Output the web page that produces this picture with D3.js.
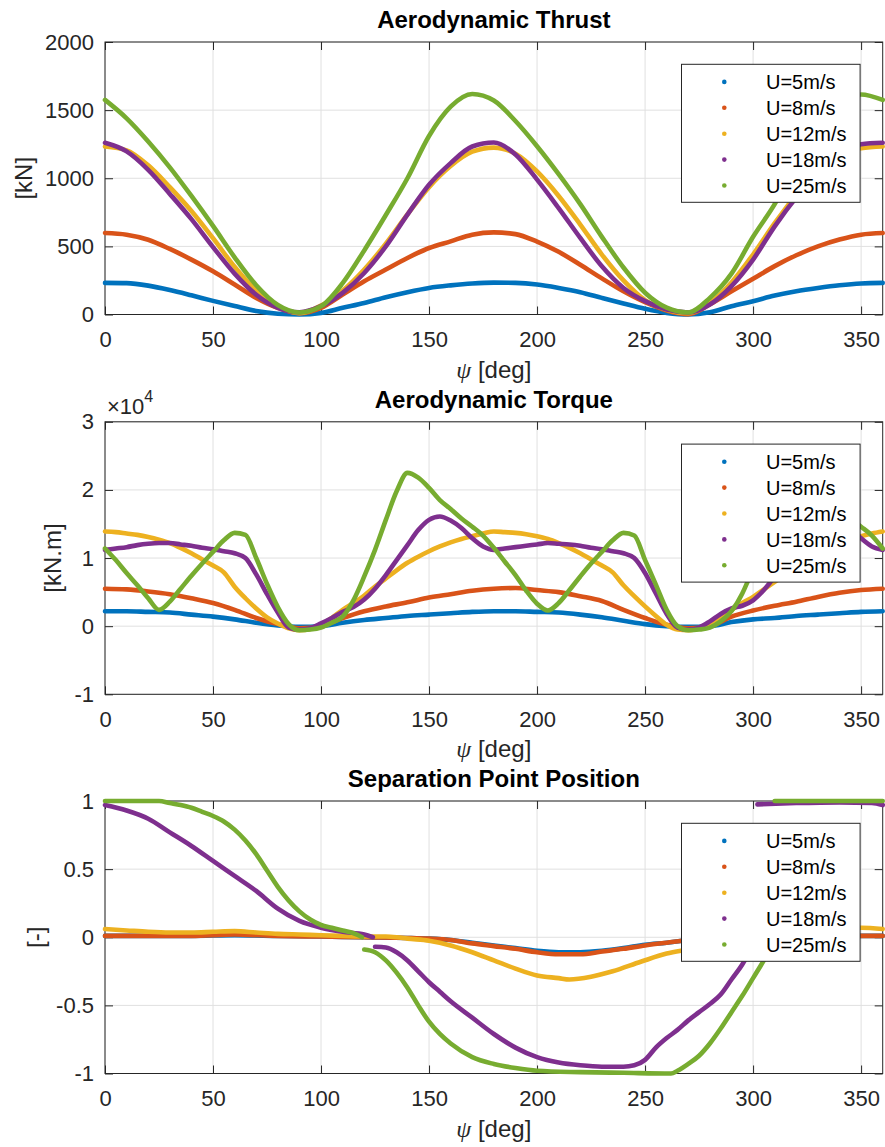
<!DOCTYPE html>
<html><head><meta charset="utf-8">
<script src="https://cdn.jsdelivr.net/npm/d3@7"></script>
<style>body{margin:0;background:#fff} svg{display:block}</style>
</head><body>
<script>
// ---------- DATA ----------
const seriesNames = ['U=5m/s','U=8m/s','U=12m/s','U=18m/s','U=25m/s'];
const xTickVals = [0,50,100,150,200,250,300,350];
const thrustTicks = [0,500,1000,1500,2000];
const torqueTicks = [-1,0,1,2,3];          // x 10^4
const sepTicks = [-1,-0.5,0,0.5,1];

const psi10 = [0,10,20,30,40,50,60,70,80,90,100,110,120,130,140,150,160,170,180,190,200,210,220,230,240,250,260,270,280,290,300,310,320,330,340,350,360];
const psi5 = [0,5,10,15,20,25,30,35,40,45,50,55,60,65,70,75,80,85,90,95,100,105,110,115,120,125,130,135,140,145,150,155,160,165,170,175,180,185,190,195,200,205,210,215,220,225,230,235,240,245,250,255,260,265,270,275,280,285,290,295,300,305,310,315,320,325,330,335,340,345,350,355,360];

// Aerodynamic thrust [kN] (psi10)
const thrustU5  = [232,230,212,180,141,100,62,26,6,0, 12,49,85,127,164,195,214,228,234,232, 220,195,164,122,81,42,12,0,17,61, 98,139,171,195,215,228,232];
const thrustU8  = [598,586,549,481,403,317,220,122,49,10, 49,147,244,330,415,488,537,586,603,590, 535,460,365,265,170,90,30,3,75,170, 262,355,435,500,550,586,598];
const thrustU12 = [1233,1205,1095,935,760,560,350,175,60,10, 65,175,330,520,735,935,1090,1195,1225,1180, 1050,870,660,440,250,105,35,10,85,235, 440,670,880,1050,1165,1220,1233];
const thrustU18 = [1260,1197,1062,885,700,495,300,145,49,17, 61,159,305,500,733,952,1111,1233,1262,1175, 990,781,562,354,195,98,37,15,73,208, 403,647,860,1040,1160,1250,1260];
const thrustU25 = [1575,1440,1270,1080,870,650,420,215,70,15, 60,230,470,730,1000,1310,1525,1618,1570,1420, 1235,1030,810,570,345,160,50,15,122,300, 570,810,1100,1380,1560,1615,1575];

// Aerodynamic torque [kN.m] in units of 10^4
const torqueU5 = [0.22,0.22,0.21,0.20,0.17,0.14,0.10,0.05,0.01,-0.01, 0.0,0.05,0.09,0.12,0.15,0.17,0.19,0.21,0.22,0.22, 0.21,0.20,0.17,0.13,0.08,0.03,0.0,-0.01,0.0,0.06, 0.10,0.12,0.15,0.17,0.19,0.21,0.22];
const torqueU8 = [0.55,0.54,0.51,0.47,0.41,0.34,0.24,0.12,0.03,-0.03, 0.0,0.12,0.22,0.29,0.35,0.42,0.47,0.52,0.55,0.56, 0.53,0.50,0.44,0.37,0.24,0.12,0.02,-0.03,0.0,0.14, 0.23,0.30,0.36,0.43,0.49,0.53,0.55];
const torqueU12 = [1.39,1.38,1.36,1.34,1.31,1.27,1.22,1.15,1.07,0.98, 0.89,0.79,0.58,0.41,0.26,0.13,0.04,-0.03,-0.06,-0.04,
 0.02,0.12,0.24,0.34,0.45,0.58,0.70,0.82,0.93,1.02, 1.10,1.17,1.23,1.28,1.32,1.36,1.39,1.38,1.37,1.35,
 1.32,1.28,1.22,1.15,1.07,0.98,0.89,0.79,0.60,0.44, 0.29,0.15,0.02,-0.05,-0.06,-0.03,0.02,0.12,0.24,0.34,
 0.43,0.54,0.65,0.76,0.86,0.96,1.05,1.13,1.20,1.26, 1.32,1.36,1.39];
const torqueU18 = [1.12,1.14,1.16,1.19,1.21,1.22,1.22,1.20,1.18,1.15, 1.13,1.10,1.07,1.00,0.76,0.47,0.20,-0.02,-0.05,-0.03,
 0.04,0.12,0.21,0.28,0.39,0.55,0.75,0.97,1.19,1.41, 1.56,1.61,1.55,1.44,1.29,1.17,1.12,1.14,1.16,1.18,
 1.20,1.22,1.21,1.20,1.18,1.15,1.13,1.10,1.07,1.00, 0.78,0.48,0.18,-0.02,-0.05,-0.02,0.07,0.18,0.26,0.30,
 0.38,0.53,0.73,0.97,1.19,1.41,1.57,1.61,1.55,1.44, 1.29,1.17,1.12];
const torqueU25 = [1.14,0.97,0.78,0.60,0.41,0.24,0.36,0.55,0.74,0.92, 1.09,1.26,1.37,1.34,1.00,0.62,0.28,0.03,-0.06,-0.05,
 -0.02,0.05,0.14,0.38,0.73,1.12,1.56,1.98,2.25,2.18, 2.03,1.85,1.72,1.58,1.46,1.33,1.15,0.95,0.75,0.52,
 0.33,0.23,0.34,0.53,0.73,0.92,1.09,1.26,1.37,1.33, 0.97,0.61,0.24,0.0,-0.06,-0.05,-0.02,0.07,0.22,0.48,
 0.85,1.28,1.70,2.08,2.25,2.18,2.03,1.85,1.72,1.58, 1.46,1.33,1.14];

// Separation point position [-] as [psi, value]; null marks a jump
const sepU5 = [[0,0.01],[20,0.01],[40,0.01],[60,0.015],[80,0.01],[100,0.005],[120,0.0],[140,-0.005],[150,-0.01],[160,-0.02],[170,-0.04],[180,-0.06],[190,-0.08],[200,-0.10],[210,-0.11],[220,-0.11],[230,-0.10],[240,-0.08],[250,-0.055],[260,-0.04],[270,-0.02],[280,-0.01],[290,0.0],[300,0.005],[320,0.01],[340,0.01],[360,0.01]];
const sepU8 = [[0,0.01],[20,0.01],[40,0.01],[60,0.02],[80,0.01],[100,0.005],[120,0.0],[140,-0.005],[150,-0.01],[160,-0.02],[170,-0.045],[180,-0.065],[190,-0.085],[200,-0.11],[210,-0.125],[220,-0.125],[230,-0.105],[240,-0.085],[250,-0.06],[260,-0.04],[270,-0.02],[280,-0.01],[290,0.0],[300,0.005],[320,0.01],[340,0.01],[360,0.01]];
const sepU12 = [[0,0.06],[10,0.05],[20,0.04],[30,0.035],[40,0.035],[50,0.04],[60,0.045],[70,0.035],[80,0.025],[90,0.02],[100,0.015],[110,0.01],[120,0.005],[130,0.005],[135,0.0],[140,-0.01],[150,-0.025],[155,-0.04],[160,-0.06],[170,-0.11],[180,-0.17],[190,-0.23],[200,-0.28],[210,-0.30],[215,-0.31],[225,-0.29],[235,-0.25],[248,-0.18],[260,-0.12],[270,-0.09],[280,-0.06],[290,-0.03],[300,0.0],[310,0.02],[320,0.04],[330,0.05],[340,0.06],[350,0.07],[360,0.06]];
const sepU18 = [[0,0.97],[10,0.93],[20,0.87],[30,0.77],[40,0.67],[50,0.56],[60,0.45],[70,0.34],[80,0.21],[90,0.12],[100,0.07],[110,0.04],[120,0.02],[124,0.0], null,
 [125,-0.07],[130,-0.075],[135,-0.11],[140,-0.17],[145,-0.25],[150,-0.33],[155,-0.40],[160,-0.47],[170,-0.59],[180,-0.71],[190,-0.81],[200,-0.88],[210,-0.92],[220,-0.94],[230,-0.95],[240,-0.95],[245,-0.94],[250,-0.90],[255,-0.81],[260,-0.74],[265,-0.68],[270,-0.61],[275,-0.55],[280,-0.49],[285,-0.42],[290,-0.31],[295,-0.20],[300,-0.06], null,
 [302,0.975],[320,0.985],[340,0.99],[355,0.985],[360,0.97]];
const sepU25 = [[0,1.0],[25,1.0],[30,0.985],[35,0.97],[40,0.95],[45,0.92],[50,0.89],[55,0.85],[60,0.79],[65,0.71],[70,0.61],[75,0.49],[80,0.37],[85,0.27],[90,0.19],[95,0.13],[100,0.09],[105,0.07],[110,0.05],[115,0.03],[119,0.0], null,
 [120,-0.09],[125,-0.11],[130,-0.17],[135,-0.26],[140,-0.37],[145,-0.50],[150,-0.62],[155,-0.71],[160,-0.78],[170,-0.88],[180,-0.93],[190,-0.96],[200,-0.98],[220,-0.99],[240,-0.995],[262,-1.0],[265,-0.98],[270,-0.93],[275,-0.87],[280,-0.78],[285,-0.67],[290,-0.55],[295,-0.43],[300,-0.30],[305,-0.17],[310,-0.04], null,
 [310,1.0],[360,1.0]];

// ---------- DRAWING ----------
const W = 885, H = 1147;
const colors = ['#0072BD','#D95319','#EDB120','#7E2F8E','#77AC30'];
const SANS = "'Liberation Sans', Arial, Helvetica, sans-serif";
const svg = d3.select('body').append('svg').attr('width', W).attr('height', H)
  .style('font-family', SANS);

const L = 105, R = 882.7, PH = 272.5;
const x = d3.scaleLinear().domain([0, 360]).range([L, R]);

function zip(ps, vs){ return [ps.map((p,i)=>[p, vs[i]])]; }
function splitSegs(arr){
  const segs = [[]];
  arr.forEach(d => { if (d === null) segs.push([]); else segs[segs.length-1].push(d); });
  return segs;
}

function panel(p){
  const top = p.top, bottom = top + PH;
  const y = d3.scaleLinear().domain(p.domain).range([bottom, top]);
  const g = svg.append('g');

  // grid
  g.selectAll('.gx').data(xTickVals).enter().append('line')
    .attr('x1', d=>x(d)).attr('x2', d=>x(d)).attr('y1', top).attr('y2', bottom)
    .attr('stroke', '#e0e0e0').attr('stroke-width', 1);
  g.selectAll('.gy').data(p.ticks).enter().append('line')
    .attr('x1', L).attr('x2', R).attr('y1', d=>y(d)).attr('y2', d=>y(d))
    .attr('stroke', '#e0e0e0').attr('stroke-width', 1);

  // axes (ticks inward)
  const ax = [
    g.append('g').attr('transform', `translate(0,${bottom})`)
      .call(d3.axisBottom(x).tickValues(xTickVals).tickSizeInner(-8).tickSizeOuter(0).tickPadding(17)),
    g.append('g').attr('transform', `translate(0,${top})`)
      .call(d3.axisTop(x).tickValues(xTickVals).tickSizeInner(-8).tickSizeOuter(0).tickFormat('')),
    g.append('g').attr('transform', `translate(${L},0)`)
      .call(d3.axisLeft(y).tickValues(p.ticks).tickSizeInner(-8).tickSizeOuter(0).tickPadding(11).tickFormat(p.fmt)),
    g.append('g').attr('transform', `translate(${R},0)`)
      .call(d3.axisRight(y).tickValues(p.ticks).tickSizeInner(-8).tickSizeOuter(0).tickFormat(''))
  ];
  ax.forEach(a => {
    a.select('.domain').remove();
    a.selectAll('.tick line').attr('stroke', '#262626').attr('stroke-width', 1);
    a.selectAll('.tick text').attr('fill', '#262626').style('font-size', '22px').style('font-family', SANS);
  });
  g.append('rect').attr('x', L).attr('y', top).attr('width', R - L).attr('height', PH)
    .attr('fill', 'none').attr('stroke', '#262626').attr('stroke-width', 1);

  // data
  const line = d3.line().x(d=>x(d[0])).y(d=>y(d[1])).curve(d3.curveMonotoneX);
  p.series.forEach((segs, i) => {
    segs.forEach(seg => {
      g.append('path').datum(seg).attr('d', line)
        .attr('fill', 'none').attr('stroke', colors[i]).attr('stroke-width', 4.6)
        .attr('stroke-linecap', 'round').attr('stroke-linejoin', 'round');
    });
  });

  // title
  g.append('text').attr('x', (L+R)/2).attr('y', top - 14).attr('text-anchor', 'middle')
    .style('font-size', '24px').style('font-weight', 'bold').attr('fill', '#000').text(p.title);
  // x label
  const xl = g.append('text').attr('x', (L+R)/2).attr('y', bottom + 63).attr('text-anchor', 'middle')
    .attr('fill', '#262626').style('font-size', '24px');
  xl.append('tspan').style('font-family', "'Liberation Serif','DejaVu Serif',serif").style('font-style', 'italic').text('ψ');
  xl.append('tspan').text(' [deg]');
  // y label
  g.append('text').attr('transform', `translate(${p.ylx},${(top+bottom)/2}) rotate(-90)`)
    .attr('text-anchor', 'middle').attr('dy', '0.35em').attr('fill', '#262626')
    .style('font-size', '24px').text(p.ylabel);

  if (p.exp) {
    const t = g.append('text').attr('x', 107).attr('y', top - 8).attr('fill', '#262626').style('font-size', '22px');
    t.append('tspan').text('×10');
    t.append('tspan').attr('dy', -12).style('font-size', '16px').text('4');
  }

  // legend
  const lx = 681.5, ly = top + 22.3, lw = 178.6, lh = 138;
  const lg = g.append('g');
  lg.append('rect').attr('x', lx).attr('y', ly).attr('width', lw).attr('height', lh)
    .attr('fill', '#fff').attr('stroke', '#262626').attr('stroke-width', 1);
  seriesNames.forEach((n, i) => {
    const cy = ly + 17.6 + i * 25.9;
    lg.append('circle').attr('cx', 724.3).attr('cy', cy).attr('r', 2.3).attr('fill', colors[i]);
    lg.append('text').attr('x', 766).attr('y', cy + 7.2).attr('fill', '#000')
      .style('font-size', '20px').text(n);
  });
}

panel({
  top: 42, domain: [0, 2000], ticks: thrustTicks, fmt: d3.format('d'),
  title: 'Aerodynamic Thrust', ylabel: '[kN]', ylx: 24,
  series: [zip(psi10, thrustU5), zip(psi10, thrustU8), zip(psi10, thrustU12), zip(psi10, thrustU18), zip(psi10, thrustU25)]
});
panel({
  top: 421.8, domain: [-1, 3], ticks: torqueTicks, fmt: d => String(d), exp: true,
  title: 'Aerodynamic Torque', ylabel: '[kN.m]', ylx: 53,
  series: [zip(psi10, torqueU5), zip(psi10, torqueU8), zip(psi5, torqueU12), zip(psi5, torqueU18), zip(psi5, torqueU25)]
});
panel({
  top: 801, domain: [-1, 1], ticks: sepTicks, fmt: d => String(d),
  title: 'Separation Point Position', ylabel: '[-]', ylx: 36,
  series: [splitSegs(sepU5), splitSegs(sepU8), splitSegs(sepU12), splitSegs(sepU18), splitSegs(sepU25)]
});
</script>
</body></html>
